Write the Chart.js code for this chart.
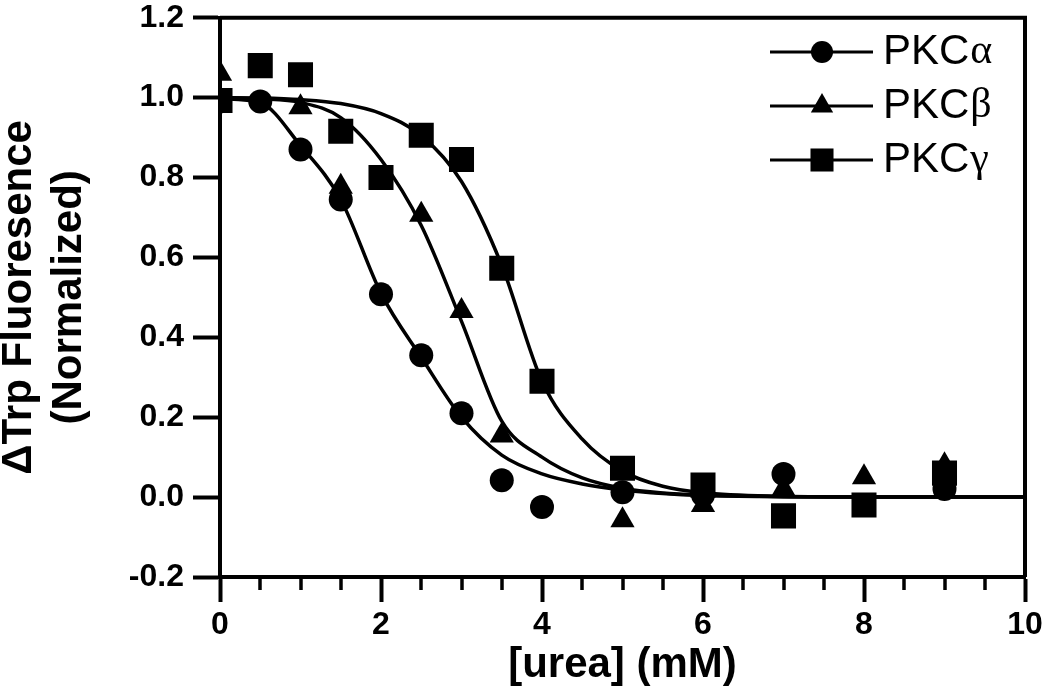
<!DOCTYPE html>
<html>
<head>
<meta charset="utf-8">
<script src="https://cdn.jsdelivr.net/npm/chart.js@4/dist/chart.umd.min.js"></script>
<style>
html,body{margin:0;padding:0;background:#fff;}
#wrap{width:1050px;height:687px;}
</style>
</head>
<body>
<div id="wrap"><canvas id="c" width="1050" height="687"></canvas></div>
<script>
// ---- data ----
const urea = [0, 0.5, 1, 1.5, 2, 2.5, 3, 3.5, 4, 5, 6, 7, 8, 9];
const pkcAlpha = [0.99, 0.99, 0.87, 0.745, 0.508, 0.355, 0.21, 0.042, -0.025, 0.012, 0.005, 0.058, null, 0.02];
const pkcBeta  = [1.06, null, 0.976, 0.777, null, 0.707, 0.466, 0.154, null, -0.058, -0.02, 0.02, 0.05, 0.08];
const pkcGamma = [0.993, 1.08, 1.057, 0.916, 0.80, 0.906, 0.845, 0.573, 0.29, 0.072, 0.03, -0.047, -0.02, 0.06];

// fitted curves
const fitX       = [0, 0.5, 1, 1.5, 2, 2.5, 3, 3.5, 4, 4.5, 5, 5.5, 6, 7, 8, 9, 10];
const alphaFit   = [0.997, 0.987, 0.88, 0.745, 0.51, 0.35, 0.20, 0.105, 0.058, 0.033, 0.018, 0.009, 0.004, 0.001, 0, 0, 0];
const betaFit    = [1.0, 0.997, 0.988, 0.95, 0.845, 0.68, 0.44, 0.19, 0.10, 0.048, 0.022, 0.01, 0.005, 0.001, 0, 0, 0];
const gammaFit   = [1.0, 0.999, 0.995, 0.985, 0.96, 0.905, 0.79, 0.58, 0.29, 0.145, 0.065, 0.027, 0.011, 0.002, 0, 0, 0];

const yTicks = [-0.2, 0, 0.2, 0.4, 0.6, 0.8, 1.0, 1.2];
const xMajorTicks = [0, 2, 4, 6, 8, 10];
const xMinorTicks = [0.5, 1, 1.5, 2.5, 3, 3.5, 4.5, 5, 5.5, 6.5, 7, 7.5, 8.5, 9, 9.5];

const seriesNames = ['PKC', 'PKC', 'PKC'];
const greekLetters = ['α', 'β', 'γ'];
const xTitle = '[urea] (mM)';
const yTitle = ['ΔTrp Fluoresence', '(Normalized)'];

const FONT = '"Liberation Sans", Arial, Helvetica, sans-serif';
const SERIF = '"Liberation Serif", "Times New Roman", serif';

const toXY = (xs, ys) => xs.map((x, i) => ({x: x, y: ys[i]})).filter(p => p.y !== null);

const styles = [
  {pointStyle: 'circle', radius: 12},
  {pointStyle: 'triangle', radius: 14},
  {pointStyle: 'rect', radius: 17.7}
];

const pointSet = (vals, st) => ({
  data: toXY(urea, vals), showLine: false,
  pointStyle: st.pointStyle, pointRadius: st.radius, pointHoverRadius: st.radius,
  backgroundColor: '#000', borderColor: '#000', pointBorderWidth: 0, borderWidth: 0
});
const curveSet = (vals) => ({
  data: toXY(fitX, vals), showLine: true, pointRadius: 0, pointHoverRadius: 0,
  borderColor: '#000', borderWidth: 3.5, fill: false, cubicInterpolationMode: 'monotone'
});

const framePlugin = {
  id: 'frame',
  afterDraw(chart) {
    const ctx = chart.ctx, a = chart.chartArea, xs = chart.scales.x;
    ctx.save();
    ctx.strokeStyle = '#000';
    ctx.lineWidth = 4;
    ctx.lineCap = 'butt';
    ctx.lineJoin = 'miter';
    ctx.beginPath();
    ctx.moveTo(a.left, a.top);
    ctx.lineTo(a.right, a.top);
    ctx.lineTo(a.right, a.bottom);
    ctx.stroke();
    // minor ticks on x axis
    ctx.lineWidth = 3.5;
    xMinorTicks.forEach(v => {
      if (xMajorTicks.includes(v)) return;
      const px = Math.round(xs.getPixelForValue(v));
      ctx.beginPath();
      ctx.moveTo(px, a.bottom);
      ctx.lineTo(px, a.bottom + 13);
      ctx.stroke();
    });
    // legend
    const rowsY = [52, 106, 160];
    const lx0 = 770, lx1 = 873, mx = 822, tx = 883;
    ctx.fillStyle = '#000';
    ctx.textBaseline = 'middle';
    ctx.textAlign = 'left';
    rowsY.forEach((y, i) => {
      ctx.lineWidth = 3;
      ctx.beginPath();
      ctx.moveTo(lx0, y);
      ctx.lineTo(lx1, y);
      ctx.stroke();
      const st = styles[i];
      Chart.helpers.drawPoint(ctx, {pointStyle: st.pointStyle, radius: st.radius * 0.92, rotation: 0, borderWidth: 0}, mx, y);
      ctx.font = '42px ' + FONT;
      ctx.fillText(seriesNames[i], tx, y);
      const w = ctx.measureText(seriesNames[i]).width;
      ctx.font = '42px ' + SERIF;
      ctx.fillText(greekLetters[i], tx + w + 1, y);
    });
    ctx.restore();
  }
};

new Chart(document.getElementById('c'), {
  type: 'line',
  data: {
    datasets: [
      curveSet(alphaFit), curveSet(betaFit), curveSet(gammaFit),
      pointSet(pkcAlpha, styles[0]), pointSet(pkcBeta, styles[1]), pointSet(pkcGamma, styles[2])
    ]
  },
  options: {
    responsive: false,
    animation: false,
    devicePixelRatio: 1,
    layout: {padding: {top: 15, right: 25, left: 0, bottom: 0}},
    plugins: {legend: {display: false}, tooltip: {enabled: false}},
    scales: {
      x: {
        type: 'linear', min: 0, max: 10,
        afterBuildTicks(s) { s.ticks = xMajorTicks.map(v => ({value: v})); },
        ticks: {
          font: {family: FONT, size: 32, weight: 'bold'}, color: '#000', padding: 4,
          maxRotation: 0, autoSkip: false,
          callback: v => String(v)
        },
        grid: {drawOnChartArea: false, drawTicks: true, tickLength: 25, tickWidth: 4, tickColor: '#000', color: '#000'},
        border: {display: true, color: '#000', width: 4},
        title: {display: true, text: xTitle, color: '#000',
          font: {family: FONT, size: 42, weight: 'bold', lineHeight: 1.0}, padding: {top: 0, bottom: 1}},
        afterFit(s) { s.height = 110; s.paddingLeft = 0; s.paddingRight = 0; }
      },
      y: {
        type: 'linear', min: -0.2, max: 1.2,
        afterBuildTicks(s) { s.ticks = yTicks.map(v => ({value: v})); },
        ticks: {
          font: {family: FONT, size: 32, weight: 'bold'}, color: '#000', padding: 9,
          callback: v => (Math.round(v * 10) / 10).toFixed(1)
        },
        grid: {drawOnChartArea: false, drawTicks: true, tickLength: 27, tickWidth: 4, tickColor: '#000', color: '#000'},
        border: {display: true, color: '#000', width: 4},
        title: {display: true, text: yTitle, color: '#000',
          font: {family: FONT, size: 42, weight: 'bold', lineHeight: 1.2}, padding: {top: -6, bottom: 0}},
        afterFit(s) { s.width = 220; s.paddingTop = 0; s.paddingBottom = 0; }
      }
    }
  },
  plugins: [framePlugin]
});
</script>
</body>
</html>
